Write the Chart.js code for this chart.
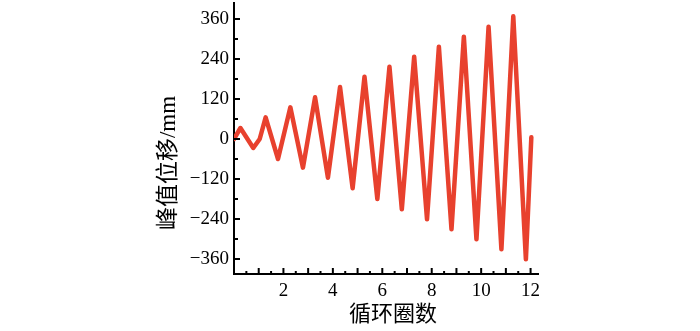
<!DOCTYPE html>
<html>
<head>
<meta charset="utf-8">
<script src="https://cdn.jsdelivr.net/npm/chart.js@4"></script>
<style>
html,body{margin:0;padding:0;background:#fff;}
#wrap{width:700px;height:331px;}
</style>
</head>
<body>
<div id="wrap"><canvas id="c"></canvas></div>
<script>
// cycle count (x) and peak displacement (y)
const cycles=[0,0.26,0.78,1.04,1.28,1.78,2.28,2.79,3.28,3.8,4.29,4.8,5.28,5.8,6.29,6.79,7.29,7.81,8.29,8.8,9.3,9.81,10.3,10.82,11.3,11.81,12.03];
const displacement=[0,33,-27,0,65,-60,95,-86,125,-116,156,-148,187,-180,217,-211,247,-241,277,-271,307,-301,337,-331,368,-361,5];

const xLabels=[2,4,6,8,10,12];
const xMajor=[1,2,3,4,5,6,7,8,9,10,11,12];
const xMinor=[0.5,1.5,2.5,3.5,4.5,5.5,6.5,7.5,8.5,9.5,10.5,11.5];
const yLabels=[-360,-240,-120,0,120,240,360];
const yMinor=[-300,-180,-60,60,180,300];
const xTitle='循环圈数';
const yTitle='峰值位移/mm';

const serif="'Liberation Serif','Noto Sans CJK SC',serif";

const axisDecor={
  id:'axisDecor',
  afterDraw(chart){
    const ctx=chart.ctx, xs=chart.scales.x, ys=chart.scales.y;
    const a=chart.chartArea;
    ctx.save();
    ctx.strokeStyle='#000';
    ctx.lineWidth=2;
    function tick(x1,y1,x2,y2){ctx.beginPath();ctx.moveTo(x1,y1);ctx.lineTo(x2,y2);ctx.stroke();}
    yLabels.forEach(v=>{const p=ys.getPixelForValue(v);tick(a.left,p,a.left+6,p);});
    yMinor.forEach(v=>{const p=ys.getPixelForValue(v);tick(a.left,p,a.left+4,p);});
    xMajor.forEach(v=>{const p=xs.getPixelForValue(v);tick(p,a.bottom,p,a.bottom-6);});
    xMinor.forEach(v=>{const p=xs.getPixelForValue(v);tick(p,a.bottom,p,a.bottom-3);});
    // axis titles
    ctx.fillStyle='#000';
    ctx.textAlign='center';
    ctx.textBaseline='middle';
    ctx.font="22px "+serif;
    ctx.fillText(xTitle,393,315);
    ctx.translate(169,163);
    ctx.rotate(-Math.PI/2);
    ctx.font="23px "+serif;
    ctx.fillText(yTitle,0,0);
    ctx.restore();
  }
};

new Chart(document.getElementById('c'),{
  type:'line',
  data:{
    datasets:[{
      data:cycles.map((x,i)=>({x:x,y:displacement[i]})),
      borderColor:'#e8412e',
      borderWidth:4.5,
      borderJoinStyle:'round',
      borderCapStyle:'round',
      pointRadius:0,
      tension:0,
      fill:false
    }]
  },
  options:{
    responsive:true,
    maintainAspectRatio:false,
    animation:false,
    layout:{padding:{left:156,right:162,top:3,bottom:1}},
    plugins:{legend:{display:false},tooltip:{enabled:false}},
    scales:{
      x:{
        type:'linear',min:0,max:12.3,
        afterBuildTicks:s=>{s.ticks=xLabels.map(v=>({value:v}));},
        afterFit:s=>{s.height=56;s.paddingLeft=0;s.paddingRight=0;},
        grid:{display:false,drawTicks:false},
        border:{display:true,color:'#000',width:2},
        ticks:{color:'#000',font:{family:serif,size:19},padding:6,maxRotation:0,autoSkip:false}
      },
      y:{
        min:-405,max:408,
        afterBuildTicks:s=>{s.ticks=yLabels.map(v=>({value:v}));},
        afterFit:s=>{s.width=78;s.paddingTop=0;s.paddingBottom=0;},
        grid:{display:false,drawTicks:false},
        border:{display:true,color:'#000',width:2},
        ticks:{color:'#000',font:{family:serif,size:19},padding:5,autoSkip:false,
          callback:v=>v<0?'\u2212'+Math.abs(v):String(v)}
      }
    }
  },
  plugins:[axisDecor]
});
</script>
</body>
</html>
